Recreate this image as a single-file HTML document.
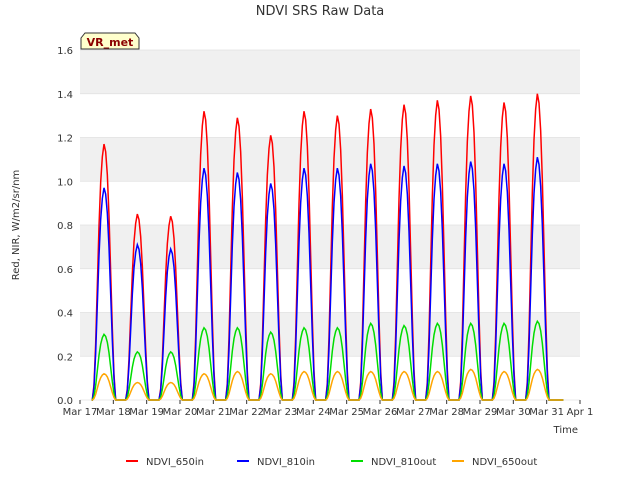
<!DOCTYPE html>
<html><head><meta charset="utf-8"><style>
body{margin:0;background:#fff;font-family:"Liberation Sans","DejaVu Sans",sans-serif;}
</style></head><body>
<svg id="c" width="640" height="480" xmlns="http://www.w3.org/2000/svg" font-family="DejaVu Sans, Liberation Sans, sans-serif"></svg>
<script>
const days=["Mar 17","Mar 18","Mar 19","Mar 20","Mar 21","Mar 22","Mar 23","Mar 24","Mar 25","Mar 26","Mar 27","Mar 28","Mar 29","Mar 30","Mar 31","Apr 1"];
const yTicks=[0,0.2,0.4,0.6,0.8,1.0,1.2,1.4,1.6];
const peak650in=[1.17,0.85,0.84,1.32,1.29,1.21,1.32,1.30,1.33,1.35,1.37,1.39,1.36,1.40];
const peak810in=[0.97,0.71,0.69,1.06,1.04,0.99,1.06,1.06,1.08,1.07,1.08,1.09,1.08,1.11];
const peak810out=[0.30,0.22,0.22,0.33,0.33,0.31,0.33,0.33,0.35,0.34,0.35,0.35,0.35,0.36];
const peak650out=[0.12,0.08,0.08,0.12,0.13,0.12,0.13,0.13,0.13,0.13,0.13,0.14,0.13,0.14];
const profile=[0,0.06,0.22,0.45,0.68,0.85,0.95,1,0.97,0.88,0.72,0.5,0.28,0.1,0];
const ns="http://www.w3.org/2000/svg",svg=document.getElementById('c');
const L=80,R=580,T=50,B=400;
const xS=d=>L+d*(R-L)/15, yS=v=>B-v/1.6*(B-T);
function el(t,a,p){const e=document.createElementNS(ns,t);for(const k in a)e.setAttribute(k,a[k]);(p||svg).appendChild(e);return e;}
el('rect',{x:L,y:T,width:R-L,height:B-T,fill:'#fff'});
for(let i=0;i<8;i+=2){const b=el('rect',{x:L,y:yS(yTicks[i+1]+0.2),width:R-L,height:yS(0)-yS(0.2),fill:'#f0f0f0'});
}
yTicks.forEach(v=>{el('line',{x1:L,x2:R,y1:yS(v),y2:yS(v),stroke:'#e0e0e0','stroke-width':0.8});
const t=el('text',{x:L-7,y:yS(v)+4,'text-anchor':'end','font-size':10,fill:'#333'});t.textContent=v.toFixed(1);
});
days.forEach((d,i)=>{el('line',{x1:xS(i),x2:xS(i),y1:B,y2:B+4,stroke:'#333'});
const t=el('text',{x:xS(i),y:B+15,'text-anchor':'middle','font-size':10,fill:'#333'});t.textContent=d;
});
function series(peaks,color,name){let pts=[[xS(0.35),yS(0)]];
peaks.forEach((p,d)=>{profile.forEach((f,h)=>{pts.push([xS(d+0.37+h*0.05),yS(p*f)]);});});
pts.push([xS(14.5),yS(0)]);
const e=el('polyline',{points:pts.map(q=>q.join(',')).join(' '),fill:'none',stroke:color,'stroke-width':1.5});
}
series(peak650in,'#ff0000','series-ndvi-650in');
series(peak810in,'#0000ff','series-ndvi-810in');
series(peak810out,'#00dd00','series-ndvi-810out');
series(peak650out,'#ffa500','series-ndvi-650out');
const title=el('text',{x:320,y:15,'text-anchor':'middle','font-size':13,fill:'#333'});title.textContent='NDVI SRS Raw Data';

const xt=el('text',{x:578,y:433,'text-anchor':'end','font-size':10,fill:'#333'});xt.textContent='Time';

const yt=el('text',{x:19,y:225,'text-anchor':'middle','font-size':10,fill:'#333',transform:'rotate(-90 19 225)'});yt.textContent='Red, NIR, W/m2/sr/nm';

const vb=el('path',{d:'M81,49 L81,38 L85,33 L135,33 L139,38 L139,49 Z',fill:'#ffffcc',stroke:'#333','stroke-width':1});

const vt=el('text',{x:110,y:46,'text-anchor':'middle','font-size':11,'font-weight':'bold',fill:'#8b0000'});vt.textContent='VR_met';

const leg=[['NDVI_650in','#ff0000',126],['NDVI_810in','#0000ff',237],['NDVI_810out','#00dd00',351],['NDVI_650out','#ffa500',452]];
leg.forEach(([n,c,x])=>{const g=el('g',{});
el('line',{x1:x,x2:x+12,y1:461,y2:461,stroke:c,'stroke-width':2},g);
const t=el('text',{x:x+20,y:465,'font-size':10,fill:'#333'},g);t.textContent=n;});
</script>
</body></html>
